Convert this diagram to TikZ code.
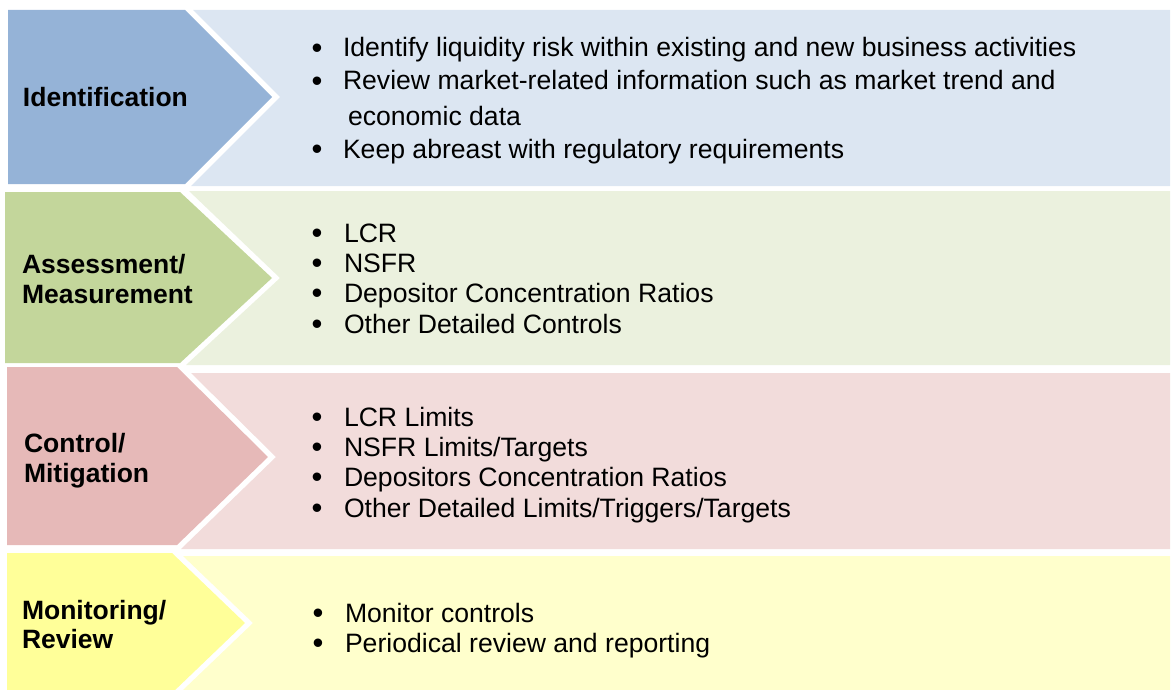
\documentclass[tikz,border=0pt]{standalone}
\usepackage{fontspec}
\setmainfont{Liberation Sans}
\definecolor{blueD}{HTML}{95B3D7}
\definecolor{blueL}{HTML}{DCE6F2}
\definecolor{greenD}{HTML}{C3D69B}
\definecolor{greenL}{HTML}{EBF1DE}
\definecolor{redD}{HTML}{E6B9B8}
\definecolor{redL}{HTML}{F2DCDB}
\definecolor{yelD}{HTML}{FFFF99}
\definecolor{yelL}{HTML}{FFFFCC}
\begin{document}
\begin{tikzpicture}[x=1pt,y=-1pt,
  every node/.style={inner sep=0pt, outer sep=0pt, anchor=base west},
  txt/.style={font=\fontsize{26.6}{30}\selectfont},
  lbl/.style={font=\fontsize{26.5}{30}\selectfont\bfseries},
  bul/.style={font=\fontsize{31}{30}\selectfont, yshift=-1.6pt}]
\useasboundingbox (0,0) rectangle (1172,690);
\clip (0,0) rectangle (1172,690);
% Row 1
\fill[blueL] (193,10) -- (1170,10) -- (1170,186) -- (191,186) -- (280,97) -- cycle;
\fill[blueD] (8,10) -- (185,10) -- (272,97) -- (185,184) -- (8,184) -- cycle;
% Row 2
\fill[greenL] (189,191) -- (1170,191) -- (1170,365) -- (186,365) -- (280,278) -- cycle;
\fill[greenD] (5,192) -- (180,192) -- (272,278) -- (180,363) -- (5,363) -- cycle;
% Row 3
\fill[redL] (191,373) -- (1170,373) -- (1170,549) -- (181,549) -- (276,457) -- cycle;
\fill[redD] (7,367) -- (177,367) -- (268,457) -- (177,545) -- (7,545) -- cycle;
% Row 4
\fill[yelL] (183,556) -- (1170,556) -- (1170,690) -- (183,690) -- (253,623) -- cycle;
\fill[yelD] (7,553) -- (172,553) -- (245,623) -- (172,693) -- (7,693) -- cycle;

% Labels
\node[lbl] (l1) at (23,107) {Identification};
\node[lbl] (l2a) at (22,273) {Assessment/};
\node[lbl] (l2b) at (22,303) {Measurement};
\node[lbl] (l3a) at (24,452) {Control/};
\node[lbl] (l3b) at (24,482) {Mitigation};
\node[lbl] (l4a) at (22,619) {Monitoring/};
\node[lbl] (l4b) at (22,648) {Review};

% Row 1 text
\node[bul] (b1a) at (311.5,57) {•};
\node[txt] (t1a) at (343,57) {Identify liquidity risk within existing and new business activities};
\node[bul] (b1b) at (311.5,90) {•};
\node[txt] (t1b) at (343,90) {Review market-related information such as market trend and};
\node[txt] (t1c) at (348,126) {economic data};
\node[bul] (b1d) at (311.5,158) {•};
\node[txt] (t1d) at (343,158) {Keep abreast with regulatory requirements};

% Row 2 text
\node[bul] (b2a) at (311.5,242) {•};
\node[txt] (t2a) at (344,242) {LCR};
\node[bul] (b2b) at (311.5,272) {•};
\node[txt] (t2b) at (344,272) {NSFR};
\node[bul] (b2c) at (311.5,302) {•};
\node[txt] (t2c) at (344,302) {Depositor Concentration Ratios};
\node[bul] (b2d) at (311.5,333) {•};
\node[txt] (t2d) at (344,333) {Other Detailed Controls};

% Row 3 text
\node[bul] (b3a) at (311.5,426) {•};
\node[txt] (t3a) at (344,426) {LCR Limits};
\node[bul] (b3b) at (311.5,456) {•};
\node[txt] (t3b) at (344,456) {NSFR Limits/Targets};
\node[bul] (b3c) at (311.5,486) {•};
\node[txt] (t3c) at (344,486) {Depositors Concentration Ratios};
\node[bul] (b3d) at (311.5,517) {•};
\node[txt] (t3d) at (344,517) {Other Detailed Limits/Triggers/Targets};

% Row 4 text
\node[bul] (b4a) at (312.5,622) {•};
\node[txt] (t4a) at (345,622) {Monitor controls};
\node[bul] (b4b) at (312.5,652) {•};
\node[txt] (t4b) at (345,652) {Periodical review and reporting};
\end{tikzpicture}
\end{document}
